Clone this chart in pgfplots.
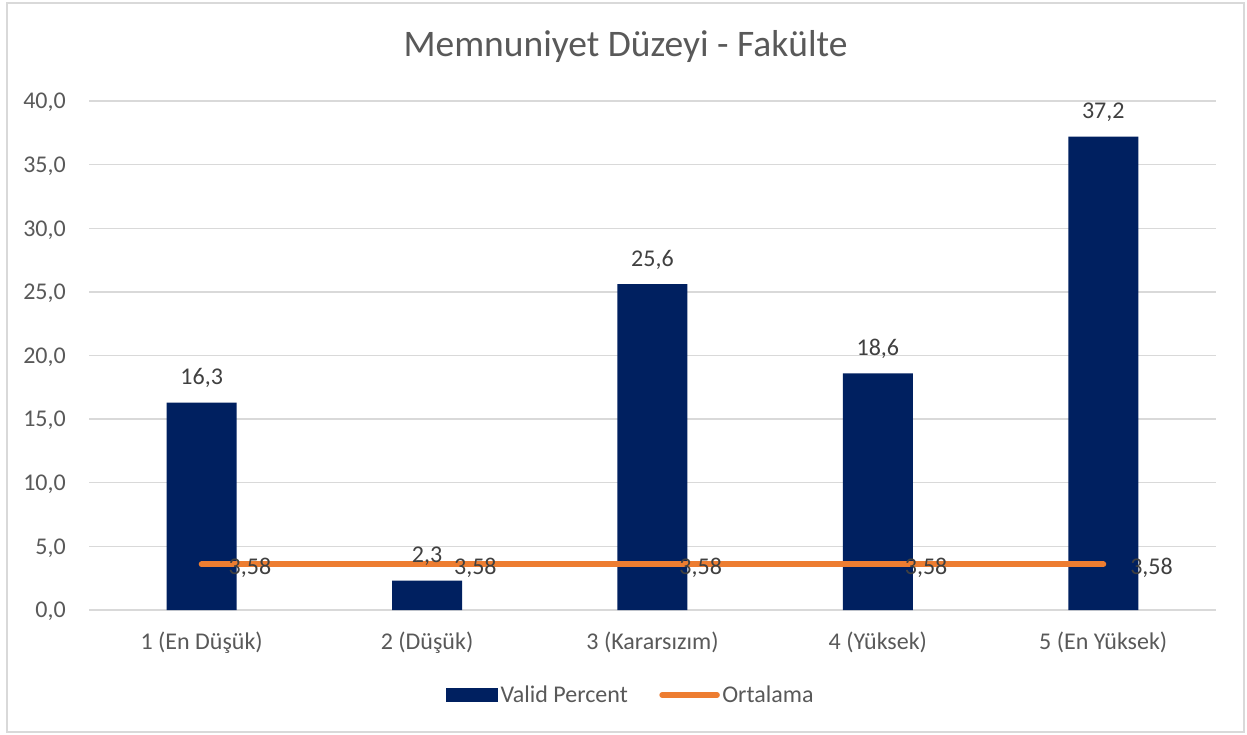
\documentclass[border=0pt]{standalone}
\usepackage{pgfplots}
\pgfplotsset{compat=1.18}
\usepackage{fontspec}
\setmainfont{Carlito}
\definecolor{navy}{HTML}{002060}
\definecolor{orng}{HTML}{ED7D31}
\definecolor{txt}{HTML}{595959}
\definecolor{lbl}{HTML}{404040}
\definecolor{grd}{HTML}{D9D9D9}
\begin{document}
\begin{tikzpicture}
\useasboundingbox (0pt,0pt) rectangle (1247pt,734pt);
\fill[white] (0pt,0pt) rectangle (1247pt,734pt);
\draw[grd, line width=1.3pt] (7pt,2pt) rectangle (1244pt,731pt);
\node[anchor=base, text=txt, inner sep=0pt, font=\fontsize{37.5}{42}\selectfont] at (625.5pt,677pt) {Memnuniyet Düzeyi - Fakülte};
\begin{axis}[
  at={(89pt,124pt)}, anchor=south west,
  scale only axis, width=1127pt, height=509pt,
  xmin=-0.5, xmax=4.5, ymin=0, ymax=40,
  ytick={0,5,10,15,20,25,30,35,40},
  xtick={0,1,2,3,4},
  xticklabels={1 (En Düşük), 2 (Düşük), 3 (Kararsızım), 4 (Yüksek), 5 (En Yüksek)},
  axis line style={draw=none},
  major tick length=0pt,
  ymajorgrids, grid style={grd, line width=1.3pt},
  tick label style={text=txt, font=\fontsize{24}{28}\selectfont},
  yticklabel style={anchor=base east, inner sep=0pt, xshift=-23pt, yshift=-7.8pt},
  xticklabel style={anchor=base, inner sep=0pt, yshift=-39pt},
  /pgf/number format/fixed,
  /pgf/number format/fixed zerofill,
  /pgf/number format/precision=1,
  /pgf/number format/use comma,
  /pgf/number format/assume math mode=true,
  clip=false,
  legend columns=2,
  legend cell align=left,
  legend style={at={(0.481,-0.167)}, anchor=center, draw=none, fill=none,
    font=\fontsize{24}{28}\selectfont, text=txt,
    nodes={inner sep=2.5pt},
    /tikz/every even column/.append style={column sep=29pt}},
]
\addplot[ybar, bar width=70pt, fill=navy, draw=none,
  nodes near coords,
  every node near coord/.append style={anchor=base, inner sep=0pt, yshift=18pt, text=lbl, font=\fontsize{24}{28}\selectfont},
  legend image code/.code={\fill[navy] (0pt,-7pt) rectangle (52pt,7pt);}]
  coordinates {(0,16.3) (1,2.3) (2,25.6) (3,18.6) (4,37.2)};
\addlegendentry{Valid Percent}
\addplot[orng, line width=6pt, line cap=round, mark=none,
  nodes near coords={\pgfmathprintnumber[precision=2]{\pgfplotspointmeta}},
  every node near coord/.append style={anchor=base west, inner sep=0pt, xshift=24pt, yshift=-9.6pt, text=lbl, font=\fontsize{24}{28}\selectfont},
  legend image code/.code={\draw[orng, line width=5.5pt, line cap=round] (0pt,0pt) -- (55pt,0pt);}]
  coordinates {(0,3.58) (1,3.58) (2,3.58) (3,3.58) (4,3.58)};
\addlegendentry{Ortalama}
\end{axis}
\end{tikzpicture}
\end{document}
